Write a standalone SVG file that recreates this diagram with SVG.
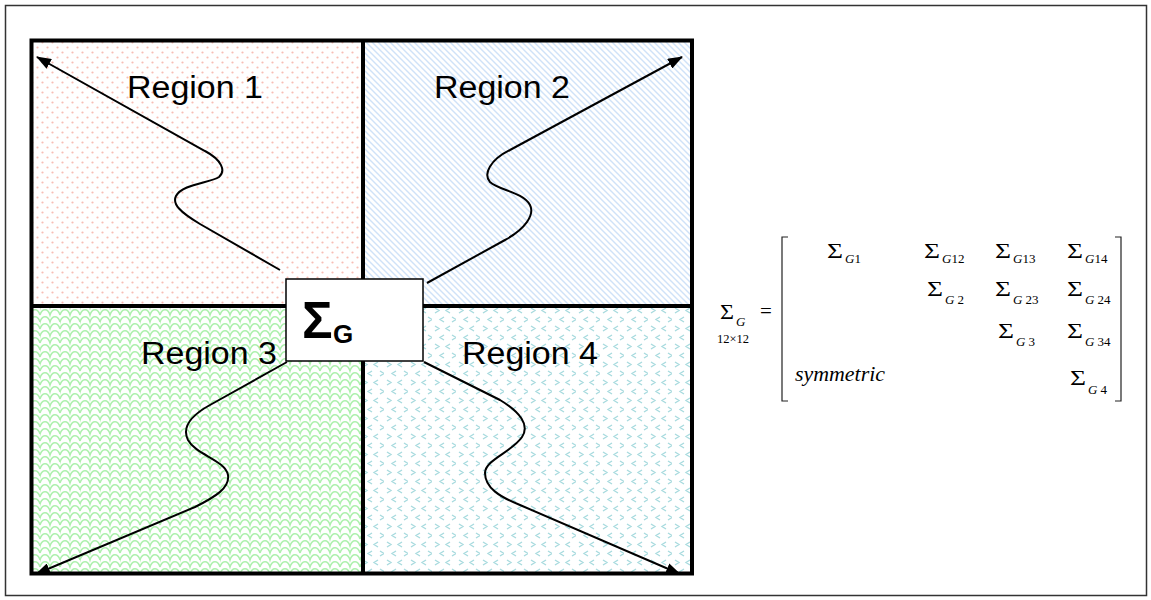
<svg xmlns="http://www.w3.org/2000/svg" width="1151" height="600" viewBox="0 0 1151 600">
<style>
.lbl{font-family:"Liberation Sans",Arial,sans-serif;font-size:31px;fill:#000}
.m{font-family:"Liberation Serif","Times New Roman",serif;font-size:21px;fill:#000}
.s{font-family:"Liberation Serif","Times New Roman",serif;font-size:13px;font-style:italic;fill:#000}
.s tspan.n{font-style:normal}
.curve{fill:none;stroke:#000;stroke-width:2;marker-end:url(#ah)}
.grid{fill:none;stroke:#000;stroke-width:4}
.br{fill:none;stroke:#222;stroke-width:1.2}
</style>
<defs>
<marker id="ah" markerUnits="userSpaceOnUse" markerWidth="15" markerHeight="11" refX="14" refY="5.5" orient="auto">
<path d="M0,0 L15,5.5 L0,11 z" fill="#000"/>
</marker>
<pattern id="p1" width="10" height="10" patternUnits="userSpaceOnUse">
<rect width="10" height="10" fill="#fff"/>
<circle cx="2.5" cy="2.5" r="1.1" fill="#f8bdb4"/>
<circle cx="7.5" cy="7.5" r="1.1" fill="#f8bdb4"/>
</pattern>
<pattern id="p2" width="6" height="6" patternUnits="userSpaceOnUse">
<rect width="6" height="6" fill="#fff"/>
<path d="M-1,-1 L7,7 M-1,5 L1,7 M5,-1 L7,1" stroke="#cfe2f8" stroke-width="1.4"/>
</pattern>
<pattern id="p3" width="20" height="14" patternUnits="userSpaceOnUse">
<rect width="20" height="14" fill="#fff"/>
<path d="M0,7 C2,0 8,0 10,7 C12,0 18,0 20,7 M-10,14 C-8,7 -2,7 0,14 C2,7 8,7 10,14 C12,7 18,7 20,14 C22,7 28,7 30,14 M-10,0 C-8,-7 -2,-7 0,0 C2,-7 8,-7 10,0 C12,-7 18,-7 20,0" fill="none" stroke="#acf0ac" stroke-width="1.5"/>
</pattern>
<pattern id="p4" width="24" height="18" patternUnits="userSpaceOnUse">
<rect width="24" height="18" fill="#fff"/>
<path d="M3,2 L7,4.5 L3,7 M18,2 L14,4.5 L18,7 M12,11 L8,13.5 L12,16 M20,11 L24,13.5 L20,16" fill="none" stroke="#a6dade" stroke-width="1.3"/>
</pattern>
</defs>
<rect x="5.5" y="5.5" width="1141" height="590" fill="#fff" stroke="#333" stroke-width="1.5"/>
<g id="region1"><rect x="31.5" y="40.5" width="331.5" height="265.5" fill="url(#p1)"/><text class="lbl" x="127" y="98" textLength="136" lengthAdjust="spacingAndGlyphs">Region 1</text></g>
<g id="region2"><rect x="363" y="40.5" width="329" height="265.5" fill="url(#p2)"/><text class="lbl" x="434" y="98" textLength="136" lengthAdjust="spacingAndGlyphs">Region 2</text></g>
<g id="region3"><rect x="31.5" y="306" width="331.5" height="267.5" fill="url(#p3)"/><text class="lbl" x="141" y="364" textLength="136" lengthAdjust="spacingAndGlyphs">Region 3</text></g>
<g id="region4"><rect x="363" y="306" width="329" height="267.5" fill="url(#p4)"/><text class="lbl" x="462" y="364" textLength="136" lengthAdjust="spacingAndGlyphs">Region 4</text></g>
<g id="grid">
<rect class="grid" x="31.5" y="40.5" width="660.5" height="533"/>
<line class="grid" x1="363" y1="40.5" x2="363" y2="573.5"/>
<line class="grid" x1="31.5" y1="306" x2="692" y2="306"/>
</g>
<g id="connectors">
<path class="curve" d="M280,270 L200,224 C180,212 172,204 176,196 C182,184 210,183 219,177 C226,171 222,160 205,151 L37,57"/>
<path class="curve" d="M427,283 L505,240 C525,229 535,215 530,205 C523,192 498,190 490,182 C483,174 490,160 510,150 L682,57"/>
<path class="curve" d="M287,362 L210,405 C190,416 182,428 188,440 C196,455 225,460 228,475 C230,488 215,497 195,507 L36,574"/>
<path class="curve" d="M424,362 L500,400 C520,412 530,425 522,437 C512,452 485,460 485,473 C485,488 500,497 520,505 L680,574"/>
</g>
<g id="sigmaG">
<rect x="286" y="279" width="137" height="82" fill="#fff" stroke="#000" stroke-width="1.5"/>
<text x="302" y="338" font-family="Liberation Sans,Arial,sans-serif" font-weight="bold" font-size="51">Σ</text>
<text x="333" y="343" font-family="Liberation Sans,Arial,sans-serif" font-weight="bold" font-size="26">G</text>
</g>
<g id="matrix">
<text class="m" x="720" y="319" textLength="14" lengthAdjust="spacingAndGlyphs">Σ</text>
<text class="s" x="736" y="326">G</text>
<text x="717" y="343" font-family="Liberation Serif,Times New Roman,serif" font-size="12.5">12×12</text>
<text class="m" x="760" y="318">=</text>
<path class="br" d="M788,237 L782,237 L782,401 L788,401"/>
<path class="br" d="M1115,237 L1121,237 L1121,401 L1115,401"/>
<text class="m" x="827" y="258" textLength="16" lengthAdjust="spacingAndGlyphs">Σ</text><text class="s" x="845" y="263">G<tspan class="n">1</tspan></text>
<text class="m" x="924" y="258" textLength="16" lengthAdjust="spacingAndGlyphs">Σ</text><text class="s" x="942" y="263">G<tspan class="n">12</tspan></text>
<text class="m" x="995" y="258" textLength="16" lengthAdjust="spacingAndGlyphs">Σ</text><text class="s" x="1013" y="263">G<tspan class="n">13</tspan></text>
<text class="m" x="1067" y="258" textLength="16" lengthAdjust="spacingAndGlyphs">Σ</text><text class="s" x="1085" y="263">G<tspan class="n">14</tspan></text>
<text class="m" x="927" y="296" textLength="16" lengthAdjust="spacingAndGlyphs">Σ</text><text class="s" x="945" y="304">G<tspan class="n" dx="3">2</tspan></text>
<text class="m" x="995" y="296" textLength="16" lengthAdjust="spacingAndGlyphs">Σ</text><text class="s" x="1013" y="304">G<tspan class="n" dx="3">23</tspan></text>
<text class="m" x="1067" y="296" textLength="16" lengthAdjust="spacingAndGlyphs">Σ</text><text class="s" x="1085" y="304">G<tspan class="n" dx="3">24</tspan></text>
<text class="m" x="998" y="338" textLength="16" lengthAdjust="spacingAndGlyphs">Σ</text><text class="s" x="1016" y="346">G<tspan class="n" dx="3">3</tspan></text>
<text class="m" x="1067" y="338" textLength="16" lengthAdjust="spacingAndGlyphs">Σ</text><text class="s" x="1085" y="346">G<tspan class="n" dx="3">34</tspan></text>
<text class="m" x="795" y="381" font-style="italic" font-size="20" textLength="90" lengthAdjust="spacingAndGlyphs">symmetric</text>
<text class="m" x="1070" y="385" textLength="16" lengthAdjust="spacingAndGlyphs">Σ</text><text class="s" x="1088" y="394">G<tspan class="n" dx="3">4</tspan></text>
</g>
</svg>
